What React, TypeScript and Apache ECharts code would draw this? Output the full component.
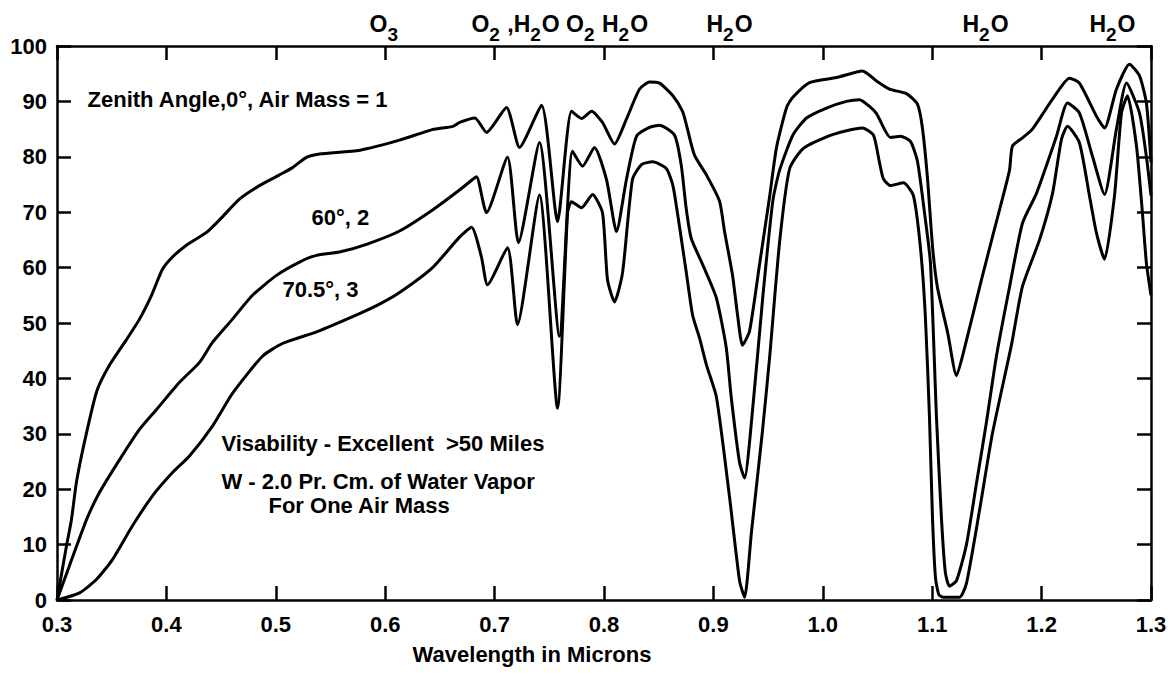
import React, { useEffect, useRef } from "react";
import * as echarts from "echarts";

// Wavelength (microns) vs. transmission (%)
const airMass1: [number, number][] = [
  [0.3, 0], [0.3087, 9.8], [0.3132, 14.5], [0.3178, 21.3], [0.3251, 28.5], [0.3362, 37.6],
  [0.348, 42.4], [0.3635, 47], [0.3754, 50.7], [0.3864, 55], [0.3964, 59.7], [0.406, 62],
  [0.418, 64], [0.437, 66.4], [0.449, 68.7], [0.467, 72.4], [0.485, 74.8], [0.503, 76.7],
  [0.515, 78], [0.528, 79.9], [0.54, 80.5], [0.577, 81.2], [0.613, 83], [0.643, 84.9],
  [0.662, 85.5], [0.668, 86.2], [0.682, 87], [0.6926, 84.4], [0.7109, 88.9], [0.7228, 81.7],
  [0.7429, 89.3], [0.7575, 68.3], [0.7703, 88.2], [0.7795, 86.9], [0.7886, 88.2], [0.7986, 86.2],
  [0.8096, 82.3], [0.8205, 86.8], [0.8324, 92.2], [0.8416, 93.5], [0.8507, 93.3], [0.8626, 91.1],
  [0.8718, 88.2], [0.8754, 85.7], [0.8827, 80.3], [0.8937, 76.7], [0.9056, 72], [0.9102, 66.5],
  [0.9175, 58.6], [0.9221, 51.4], [0.9266, 46], [0.933, 48.5], [0.9422, 60.6], [0.9513, 72.7],
  [0.9577, 81.7], [0.9669, 88.9], [0.9724, 90.7], [0.9879, 93.4], [1.0125, 94.3], [1.0363, 95.5],
  [1.0491, 93.7], [1.061, 92.2], [1.0765, 91.4], [1.0865, 89.5], [1.091, 85.3], [1.0957, 76.1],
  [1.1003, 63.8], [1.1048, 56.4], [1.114, 48.4], [1.1222, 40.5], [1.1295, 45.4], [1.145, 57.8],
  [1.1578, 67.6], [1.1706, 77.5], [1.1733, 81.9], [1.1825, 83.4], [1.1916, 85], [1.21, 90.4],
  [1.2255, 94.2], [1.2346, 93.3], [1.2502, 87.3], [1.2575, 85.2], [1.2684, 92.2], [1.2803, 96.7],
  [1.2895, 94.6], [1.2958, 89.7], [1.3, 79],
];

const airMass2: [number, number][] = [
  [0.3, 0], [0.3114, 6.2], [0.327, 14.5], [0.3388, 19.4], [0.3571, 25.3], [0.3754, 30.8],
  [0.391, 34.4], [0.412, 39.3], [0.4303, 42.9], [0.4421, 46.5], [0.4604, 50.7], [0.4787, 55],
  [0.5006, 58.6], [0.5217, 61], [0.5372, 62.2], [0.5582, 62.8], [0.5829, 64.2], [0.6131, 66.6],
  [0.6433, 70.4], [0.6679, 74], [0.6798, 75.9], [0.6835, 76.4], [0.6926, 69.9], [0.7118, 79.9],
  [0.7218, 64.5], [0.741, 82.6], [0.7593, 47.6], [0.7712, 81], [0.7804, 78.3], [0.7913, 81.7],
  [0.8023, 75.9], [0.8114, 66.5], [0.8205, 75.9], [0.8297, 83.7], [0.8416, 85.3], [0.8507, 85.7],
  [0.8645, 83.9], [0.8706, 78.5], [0.8751, 70.7], [0.8797, 65.3], [0.8903, 60.5], [0.9026, 54.6],
  [0.9117, 45.6], [0.9163, 36.6], [0.9239, 24.8], [0.9285, 22], [0.9352, 33], [0.9452, 54.8],
  [0.9543, 72], [0.9604, 77.5], [0.9726, 83.9], [0.9851, 87], [1.0034, 88.8], [1.0217, 90],
  [1.0335, 90.3], [1.0427, 89.1], [1.0491, 87.8], [1.0618, 83.5], [1.0709, 83.7], [1.0801, 82.8],
  [1.0865, 79.2], [1.0929, 70], [1.0984, 60.8], [1.1039, 33], [1.1085, 14.6], [1.112, 5],
  [1.1158, 2.5], [1.1222, 3.5], [1.1313, 10], [1.1404, 21], [1.1495, 32], [1.1587, 44],
  [1.1706, 56.4], [1.1825, 68], [1.1953, 73.4], [1.2136, 83.7], [1.2237, 89.7], [1.2346, 87.9],
  [1.2465, 80.1], [1.2575, 73.2], [1.2684, 85], [1.2776, 93.3], [1.2895, 87.9], [1.2958, 80],
  [1.3, 73],
];

const airMass3: [number, number][] = [
  [0.3, 0], [0.3206, 1.3], [0.336, 3.7], [0.3507, 7.3], [0.369, 13.4], [0.3873, 18.8],
  [0.4056, 23], [0.4211, 26], [0.4421, 31.4], [0.4604, 37.3], [0.4878, 44], [0.5061, 46.3],
  [0.5372, 48.4], [0.5765, 51.7], [0.5948, 53.4], [0.6131, 55.5], [0.6433, 60], [0.6679, 65.5],
  [0.6789, 67.3], [0.688, 61.9], [0.6935, 56.9], [0.7118, 63.6], [0.7209, 49.7], [0.741, 73.1],
  [0.7575, 34.6], [0.7667, 69.9], [0.7703, 71.9], [0.7795, 70.8], [0.7895, 73.2], [0.7986, 69.9],
  [0.8032, 57.8], [0.8096, 53.8], [0.8169, 59], [0.826, 75.9], [0.8343, 78.6], [0.8446, 79.1],
  [0.8569, 77.9], [0.8629, 74.9], [0.8675, 69.4], [0.8706, 65.3], [0.8751, 59.3], [0.881, 51.4],
  [0.8873, 47.3], [0.8937, 42.4], [0.9028, 36.6], [0.9148, 18.5], [0.9239, 3.5], [0.9285, 0.5],
  [0.9349, 12.5], [0.9449, 30.6], [0.9513, 43.6], [0.9605, 64.6], [0.9696, 77.8], [0.9815, 81.4],
  [1.0034, 83.6], [1.0217, 84.7], [1.0363, 85.2], [1.0463, 83.9], [1.0518, 79], [1.0554, 76],
  [1.0618, 74.8], [1.0737, 75.3], [1.0828, 73], [1.0892, 63.7], [1.0937, 51.4], [1.0975, 33],
  [1.1003, 14.6], [1.103, 4], [1.106, 1], [1.11, 0.5], [1.125, 0.5], [1.1313, 3],
  [1.1431, 16], [1.155, 30], [1.1724, 46], [1.1825, 56.6], [1.1981, 65], [1.21, 73.4],
  [1.2182, 83.2], [1.2237, 85.5], [1.2346, 82.5], [1.2438, 72.9], [1.2502, 66.2], [1.2575, 61.5],
  [1.2666, 72.9], [1.273, 87.9], [1.2785, 91], [1.2867, 82], [1.2921, 70], [1.2958, 60.8],
  [1.3, 55],
];

// Absorption band labels above the frame: [wavelength of left edge, text; "_" marks a subscript]
const bandLabels: [number, string][] = [
  [0.5857, "O_3"],
  [0.6788, "O_2 ,H_2O O_2 H_2O"],
  [0.8937, "H_2O"],
  [1.1277, "H_2O"],
  [1.2437, "H_2O"],
];

// Notes inside the plot: [wavelength of left edge, value at text centre, text]
const notes: [number, number, string][] = [
  [0.3279, 90.4, "Zenith Angle,0°, Air Mass = 1"],
  [0.5326, 69.1, "60°, 2"],
  [0.5061, 56, "70.5°, 3"],
  [0.4503, 28.3, "Visability - Excellent  >50 Miles"],
  [0.4503, 21.3, "W - 2.0 Pr. Cm. of Water Vapor"],
  [0.4933, 17.1, "For One Air Mass"],
];

const xAxisName = "Wavelength in Microns";
const FONT = "'Liberation Sans', Arial, sans-serif";

export default function App() {
  const ref = useRef<HTMLDivElement>(null);

  useEffect(() => {
    document.body.style.margin = "0";
    const chart = echarts.init(ref.current!, null, { renderer: "svg" });
    const axisLine = { show: true, onZero: false, lineStyle: { color: "#000", width: 2.5 } };
    const tick = { show: true, inside: true, length: 14, lineStyle: { color: "#000", width: 2.5 } };
    const label = { color: "#000", fontFamily: FONT, fontWeight: "bold" as const, fontSize: 22 };
    const lineSeries = (name: string, data: [number, number][]) => ({
      type: "line" as const,
      name,
      data,
      xAxisIndex: 0,
      yAxisIndex: 0,
      showSymbol: false,
      symbol: "none",
      smooth: 0.2,
      lineStyle: { color: "#000", width: 3 },
      silent: true,
    });
    chart.setOption({
      animation: false,
      backgroundColor: "#fff",
      grid: { left: 57, right: 19, top: 46, bottom: 76, containLabel: false },
      xAxis: [
        {
          type: "value", position: "bottom", min: 0.3, max: 1.3, interval: 0.1,
          axisLine, axisTick: tick, splitLine: { show: false },
          axisLabel: { ...label, margin: 13, showMaxLabel: true, showMinLabel: true,
            formatter: (v: number) => v.toFixed(1) },
        },
        {
          type: "value", position: "top", min: 0.3, max: 1.3, interval: 0.1,
          axisLine, axisTick: tick, splitLine: { show: false }, axisLabel: { show: false },
        },
      ],
      yAxis: [
        {
          type: "value", position: "left", min: 0, max: 100, interval: 10,
          axisLine, axisTick: tick, splitLine: { show: false },
          axisLabel: { ...label, margin: 10 },
        },
        {
          type: "value", position: "right", min: 0, max: 100, interval: 10,
          axisLine, axisTick: tick, splitLine: { show: false }, axisLabel: { show: false },
        },
      ],
      series: [
        lineSeries("Air Mass 1", airMass1),
        lineSeries("Air Mass 2", airMass2),
        lineSeries("Air Mass 3", airMass3),
      ],
    });

    const toPx = (x: number, y: number) =>
      chart.convertToPixel({ seriesIndex: 0 }, [x, y]) as number[];

    const ctx = document.createElement("canvas").getContext("2d")!;
    const mainFont = `bold 23px ${FONT}`;
    const subFont = `bold 19px ${FONT}`;
    const measure = (t: string, f: string) => {
      ctx.font = f;
      return ctx.measureText(t).width;
    };

    const graphic: any[] = [];
    bandLabels.forEach(([wl, text]) => {
      let x = toPx(wl, 100)[0];
      for (let i = 0; i < text.length; i++) {
        let ch = text[i];
        let sub = false;
        if (ch === "_") {
          sub = true;
          i++;
          ch = text[i];
        }
        const f = sub ? subFont : mainFont;
        graphic.push({
          type: "text", x, y: sub ? 34 : 24, silent: true,
          style: { text: ch, fill: "#000", font: f, align: "left", verticalAlign: "middle" },
        });
        x += measure(ch, f) + (sub ? 1 : 0);
      }
    });
    notes.forEach(([wl, v, text]) => {
      const p = toPx(wl, v);
      graphic.push({
        type: "text", x: p[0], y: p[1], silent: true,
        style: {
          text, fill: "#000", font: `bold 22px ${FONT}`,
          align: "left", verticalAlign: "middle",
        },
      });
    });
    graphic.push({
      type: "text", x: 532, y: 654, silent: true,
      style: {
        text: xAxisName, fill: "#000", font: `bold 22px ${FONT}`,
        align: "center", verticalAlign: "middle",
      },
    });
    chart.setOption({ graphic });

    return () => chart.dispose();
  }, []);

  return <div ref={ref} style={{ width: 1170, height: 676, background: "#fff" }} />;
}
